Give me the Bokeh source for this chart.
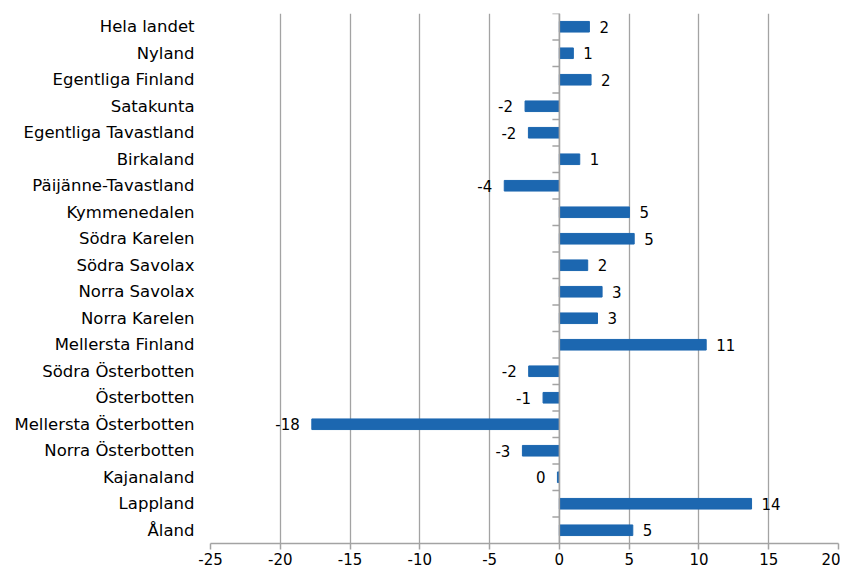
from bokeh.plotting import figure
from bokeh.models import ColumnDataSource, Range1d, FactorRange, Span, FixedTicker
from bokeh.transform import dodge
from bokeh.core.properties import value
from bokeh.embed import file_html
from bokeh.resources import INLINE

regions = ["Hela landet", "Nyland", "Egentliga Finland", "Satakunta", "Egentliga Tavastland",
           "Birkaland", "Päijänne-Tavastland", "Kymmenedalen", "Södra Karelen", "Södra Savolax",
           "Norra Savolax", "Norra Karelen", "Mellersta Finland", "Södra Österbotten", "Österbotten",
           "Mellersta Österbotten", "Norra Österbotten", "Kajanaland", "Lappland", "Åland"]
values = [2.15, 1.0, 2.27, -2.46, -2.22, 1.46, -3.95, 5.02, 5.36, 2.03,
          3.06, 2.73, 10.52, -2.2, -1.17, -17.74, -2.65, -0.14, 13.77, 5.26]
labels = ["2", "1", "2", "-2", "-2", "1", "-4", "5", "5", "2",
          "3", "3", "11", "-2", "-1", "-18", "-3", "0", "14", "5"]
x_ticks = [-25, -20, -15, -10, -5, 0, 5, 10, 15, 20]

BLUE = "#1c67b0"
GRID = "#a3a3a3"
FONT = "DejaVu Sans"

src = ColumnDataSource(dict(
    cat=regions,
    val=values,
    lab=labels,
    align=["left" if v >= 0 else "right" for v in values],
    off=[10 if v >= 0 else -12 for v in values],
))

p = figure(width=840, height=567, output_backend="svg", toolbar_location=None,
           y_range=FactorRange(factors=list(reversed(regions))),
           x_range=Range1d(x_ticks[0], x_ticks[-1]))
p.min_border_left = 210
p.min_border_right = 2
p.min_border_top = 13
p.min_border_bottom = 0
p.outline_line_color = None
p.background_fill_color = "white"
p.border_fill_color = "white"

p.hbar(y="cat", left=0, right="val", height=0.4, source=src, fill_color=BLUE, line_color=BLUE)

p.text(x="val", y="cat", text="lab", source=src, text_align="align", x_offset="off",
       text_baseline="middle", text_font=value(FONT), text_font_size="15px", text_color="black")

# zero axis line with category separator ticks
p.add_layout(Span(location=0, dimension="height", line_color=GRID, line_width=1.5))
p.segment(x0=0, x1=-0.5, y0=dodge("cat", 0.5, range=p.y_range),
          y1=dodge("cat", 0.5, range=p.y_range), source=src, line_color=GRID, line_width=1.5)

p.xgrid.ticker = FixedTicker(ticks=x_ticks)
p.xgrid.grid_line_color = GRID
p.xgrid.grid_line_width = 1.3
p.ygrid.grid_line_color = None

p.xaxis.ticker = FixedTicker(ticks=x_ticks)
p.xaxis.major_label_overrides = {t: str(t) for t in x_ticks}
p.xaxis.axis_line_color = GRID
p.xaxis.axis_line_width = 1.5
p.xaxis.major_tick_line_color = GRID
p.xaxis.major_tick_line_width = 1.5
p.xaxis.major_tick_in = 0
p.xaxis.major_tick_out = 6
p.xaxis.minor_tick_line_color = None
p.xaxis.major_label_standoff = 3
p.xaxis.major_label_text_font = FONT
p.xaxis.major_label_text_font_size = "15px"
p.xaxis.major_label_text_color = "black"

p.yaxis.axis_line_color = None
p.yaxis.major_tick_line_color = None
p.yaxis.minor_tick_line_color = None
p.yaxis.major_label_standoff = 10
p.yaxis.major_label_text_font = FONT
p.yaxis.major_label_text_font_size = "16.5px"
p.yaxis.major_label_text_color = "black"

open("out.html", "w").write(file_html(p, INLINE))
